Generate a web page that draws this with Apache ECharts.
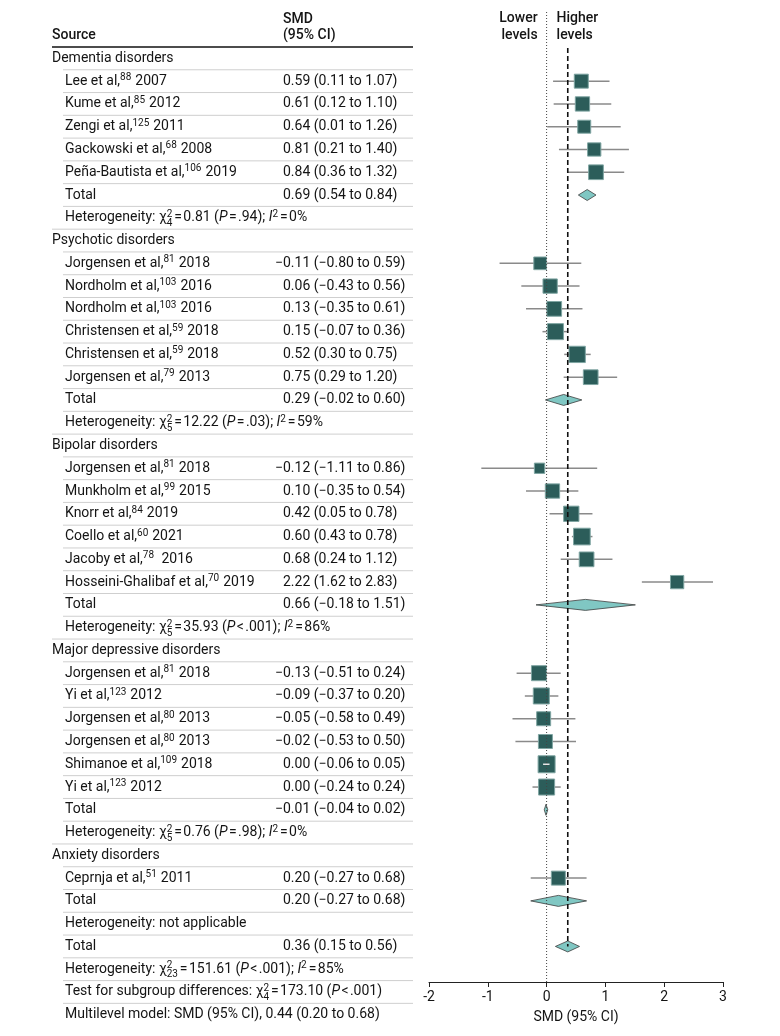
<!DOCTYPE html>
<html>
<head>
<meta charset="utf-8">
<script src="https://cdn.jsdelivr.net/npm/echarts@6/dist/echarts.min.js"></script>
<style>html,body{margin:0;padding:0;background:#fff}#c{width:780px;height:1036px}</style>
</head>
<body>
<div id="c"></div>
<script>
// ================= DATA =================
const groupNames = ['Dementia disorders', 'Psychotic disorders', 'Bipolar disorders', 'Major depressive disorders', 'Anxiety disorders'];
const studyGroup = [0,0,0,0,0, 1,1,1,1,1,1, 2,2,2,2,2,2, 3,3,3,3,3,3, 4];
const studyAuthors = ['Lee et al,', 'Kume et al,', 'Zengi et al,', 'Gackowski et al,', 'Peña-Bautista et al,',
  'Jorgensen et al,', 'Nordholm et al,', 'Nordholm et al,', 'Christensen et al,', 'Christensen et al,', 'Jorgensen et al,',
  'Jorgensen et al,', 'Munkholm et al,', 'Knorr et al,', 'Coello et al,', 'Jacoby et al,', 'Hosseini-Ghalibaf et al,',
  'Jorgensen et al,', 'Yi et al,', 'Jorgensen et al,', 'Jorgensen et al,', 'Shimanoe et al,', 'Yi et al,',
  'Ceprnja et al,'];
const studyRefs = ['88','85','125','68','106', '81','103','103','59','59','79', '81','99','84','60','78','70', '81','123','80','80','109','123', '51'];
const studyYears = ['2007','2012','2011','2008','2019', '2018','2016','2016','2018','2018','2013', '2018','2015','2019','2021','\u00a02016','2019', '2018','2012','2013','2013','2018','2012', '2011'];
const studySMD  = [0.59, 0.61, 0.64, 0.81, 0.84,  -0.11, 0.06, 0.13, 0.15, 0.52, 0.75,  -0.12, 0.10, 0.42, 0.60, 0.68, 2.22,  -0.13, -0.09, -0.05, -0.02, 0.00, 0.00,  0.20];
const studyLow  = [0.11, 0.12, 0.01, 0.21, 0.36,  -0.80, -0.43, -0.35, -0.07, 0.30, 0.29,  -1.11, -0.35, 0.05, 0.43, 0.24, 1.62,  -0.51, -0.37, -0.58, -0.53, -0.06, -0.24,  -0.27];
const studyHigh = [1.07, 1.10, 1.26, 1.40, 1.32,  0.59, 0.56, 0.61, 0.36, 0.75, 1.20,  0.86, 0.54, 0.78, 0.78, 1.12, 2.83,  0.24, 0.20, 0.49, 0.50, 0.05, 0.24,  0.68];
// relative study weights
const studyWeight = [15.1, 15.8, 13.0, 13.6, 16.7,  12.4, 15.8, 16.7, 19.8, 20.5, 16.7,  8.2, 15.8, 18.1, 21.5, 16.7, 13.6,  17.4, 19.8, 15.1, 15.1, 22.3, 19.8,  15.1];

const groupTotal     = [0.69, 0.29, 0.66, -0.01, 0.20];
const groupTotalLow  = [0.54, -0.02, -0.18, -0.04, -0.27];
const groupTotalHigh = [0.84, 0.60, 1.51, 0.02, 0.68];
const groupHetDf  = ['4', '5', '5', '5', null];
const groupHetChi = ['0.81', '12.22', '35.93', '0.76', null];
const groupHetP   = ['=', '=', '<', '=', null];
const groupHetPv  = ['.94', '.03', '.001', '.98', null];
const groupHetI2  = ['0%', '59%', '86%', '0%', null];

const overallSMD = [0.36, 0.15, 0.56];
const overallHet = ['23', '151.61', '<', '.001', '85%'];
const subgroupTest = ['4', '173.10', '<', '.001'];
const multilevelSMD = [0.44, 0.20, 0.68];

const xTickMin = -2, xTickMax = 3, xTickStep = 1;

// ================= STYLE / LAYOUT =================
const FAMILY = 'Roboto, "Noto Sans", "DejaVu Sans", sans-serif';
const FS = 14, SUP_FS = 10;
const INK = '#141414';
const ROW0 = 58.4, PITCH = 22.77, H = 1036;
const COL_GROUP = 52, COL_ITEM = 65, COL_SMD = 283, COL_END = 413;
const F_TOP = 12, F_BOTTOM = 54;
const T_MIN = (0 - ROW0) / PITCH, T_MAX = (H - ROW0) / PITCH;
const F_MIN = (F_TOP - ROW0) / PITCH, F_MAX = (H - F_BOTTOM - ROW0) / PITCH;
const DASH_TOP = (48 - ROW0) / PITCH;

const cv = document.createElement('canvas').getContext('2d');
function fontStr(size, italic, weight) { return (italic ? 'italic ' : 'normal ') + (weight || 'normal') + ' ' + size + 'px ' + FAMILY; }
function tw(t, f) { cv.font = f; return cv.measureText(t).width; }
function fmt(v) { return (v < 0 ? '\u2212' : '') + Math.abs(v).toFixed(2); }
function ciText(e, l, h) { return fmt(e) + ' (' + fmt(l) + ' to ' + fmt(h) + ')'; }
function txt(t, x, y, font, align, fill) {
  return { type: 'text', x: x, y: y, silent: true,
    style: { text: t, font: font, fill: fill || INK, textAlign: align || 'left', align: align || 'left', textVerticalAlign: 'middle', verticalAlign: 'middle' } };
}
const TS = '\u200a';
function spanEls(spans, x, y) {
  const els = []; let cx = x;
  const small = fontStr(SUP_FS, false);
  spans.forEach(s => {
    if (s.sup !== undefined || s.sub !== undefined) {
      let w = 0;
      if (s.sup !== undefined) { els.push(txt(s.sup, cx, y - 3.5, small)); w = Math.max(w, tw(s.sup, small)); }
      if (s.sub !== undefined) { els.push(txt(s.sub, cx, y + 5.5, small)); w = Math.max(w, tw(s.sub, small)); }
      cx += w + 0.5;
    } else {
      const f = fontStr(FS, !!s.i, s.b || 'normal');
      els.push(txt(s.t, cx, y, f)); cx += tw(s.t, f);
    }
  });
  return els;
}
function hetSpans(prefix, df, chi, pOp, pV, i2) {
  const sp = [{ t: prefix + 'χ' }, { sup: '2', sub: df }, { t: TS + '=' + TS + chi + ' (' }, { t: 'P', i: 1 }, { t: TS + pOp + TS + pV + ')' }];
  if (i2 !== undefined) sp.push({ t: '; ' }, { t: 'I', i: 1 }, { sup: '2' }, { t: TS + '=' + TS + i2 });
  return sp;
}

// ================= ROWS =================
const rows = [{ kind: 'header', r: -1 }];
let rr = 0;
groupNames.forEach((g, gi) => {
  rows.push({ kind: 'group', r: rr++, text: g });
  studyGroup.forEach((sg, i) => { if (sg === gi) rows.push({ kind: 'study', r: rr++, i: i, est: studySMD[i], lo: studyLow[i], hi: studyHigh[i], w: studyWeight[i] }); });
  rows.push({ kind: 'total', r: rr++, est: groupTotal[gi], lo: groupTotalLow[gi], hi: groupTotalHigh[gi] });
  rows.push({ kind: 'het', r: rr++, gi: gi });
});
const overallRow = rr;
rows.push({ kind: 'total', r: rr++, est: overallSMD[0], lo: overallSMD[1], hi: overallSMD[2] });
rows.push({ kind: 'hetAll', r: rr++ });
rows.push({ kind: 'test', r: rr++ });
rows.push({ kind: 'multi', r: rr++ });
const forestRows = rows.filter(o => o.kind === 'study' || o.kind === 'total');

function renderTable(params, api) {
  const idx = params.dataIndex;
  const row = rows[idx];
  const y = api.coord([0, row.r])[1];
  const X = v => api.coord([v, row.r])[0];
  const ch = [];
  const fN = fontStr(FS, false), fB = fontStr(FS, false, '500');
  if (row.kind === 'header') {
    ch.push(txt('Source', X(COL_GROUP), y, fB));
    ch.push(txt('SMD', X(COL_SMD), y - 16, fB));
    ch.push(txt('(95% CI)', X(COL_SMD), y, fB));
  } else if (row.kind === 'group') {
    ch.push(txt(row.text, X(COL_GROUP), y, fN));
  } else if (row.kind === 'study') {
    const i = row.i;
    ch.push(...spanEls([{ t: studyAuthors[i] }, { sup: studyRefs[i] }, { t: ' ' + studyYears[i] }], X(COL_ITEM), y));
  } else if (row.kind === 'total') {
    ch.push(txt('Total', X(COL_ITEM), y, fN));
  } else if (row.kind === 'het') {
    const g = row.gi;
    if (groupHetDf[g] === null) ch.push(txt('Heterogeneity: not applicable', X(COL_ITEM), y, fN));
    else ch.push(...spanEls(hetSpans('Heterogeneity: ', groupHetDf[g], groupHetChi[g], groupHetP[g], groupHetPv[g], groupHetI2[g]), X(COL_ITEM), y));
  } else if (row.kind === 'hetAll') {
    ch.push(...spanEls(hetSpans('Heterogeneity: ', overallHet[0], overallHet[1], overallHet[2], overallHet[3], overallHet[4]), X(COL_ITEM), y));
  } else if (row.kind === 'test') {
    ch.push(...spanEls(hetSpans('Test for subgroup differences: ', subgroupTest[0], subgroupTest[1], subgroupTest[2], subgroupTest[3]), X(COL_ITEM), y));
  } else if (row.kind === 'multi') {
    ch.push(txt('Multilevel model: SMD (95% CI), ' + ciText(multilevelSMD[0], multilevelSMD[1], multilevelSMD[2]), X(COL_ITEM), y, fN));
  }
  if (row.kind === 'study' || row.kind === 'total') {
    const s = ciText(row.est, row.lo, row.hi);
    const hang = s.charAt(0) === '\u2212' ? tw('\u2212', fN) : 0;
    ch.push(txt(s, X(COL_SMD) - hang, y, fN));
  }
  // separator below row
  const next = rows[idx + 1];
  if (next) {
    const ly = y + PITCH / 2;
    const left = (row.kind === 'header' || next.kind === 'group') ? X(COL_GROUP) : X(COL_ITEM) - 2;
    ch.push({ type: 'line', silent: true, shape: { x1: left, y1: ly, x2: X(COL_END), y2: ly },
      style: row.kind === 'header' ? { stroke: '#111', lineWidth: 1.5 } : { stroke: '#cfcfcf', lineWidth: 1 } });
  }
  return { type: 'group', children: ch };
}

const BOX_K = 3.6;
function renderForest(params, api) {
  const fr = forestRows[params.dataIndex];
  const c = api.coord([fr.est, fr.r]);
  const pl = api.coord([fr.lo, fr.r]);
  const ph = api.coord([fr.hi, fr.r]);
  const ch = [];
  if (fr.kind === 'study') {
    const s = BOX_K * Math.sqrt(fr.w);
    ch.push({ type: 'line', shape: { x1: pl[0], y1: c[1], x2: ph[0], y2: c[1] }, style: { stroke: '#8a8a8a', lineWidth: 1.5 } });
    ch.push({ type: 'rect', shape: { x: c[0] - s / 2, y: c[1] - s / 2, width: s, height: s }, style: { fill: '#2c5d5a', stroke: '#7fa5a2', lineWidth: 1 } });
    if (pl[0] > c[0] - s / 2 && ph[0] < c[0] + s / 2)
      ch.push({ type: 'line', shape: { x1: pl[0], y1: c[1], x2: ph[0], y2: c[1] }, style: { stroke: '#e6e6e6', lineWidth: 1.5 } });
  } else {
    const hh = 5.5;
    ch.push({ type: 'polygon', shape: { points: [[pl[0], c[1]], [c[0], c[1] - hh], [ph[0], c[1]], [c[0], c[1] + hh]] },
      style: { fill: '#80c7c3', stroke: '#3d3d3d', lineWidth: 0.8 } });
  }
  return { type: 'group', children: ch };
}

function renderRefs(params, api) {
  const z0 = api.coord([0, F_MIN]), z1 = api.coord([0, F_MAX]);
  const d0 = api.coord([overallSMD[0], DASH_TOP]), d1 = api.coord([overallSMD[0], overallRow]);
  const fB = fontStr(FS, false, '500');
  const yA = api.coord([0, (18 - ROW0) / PITCH])[1], yB = api.coord([0, (35 - ROW0) / PITCH])[1];
  return { type: 'group', children: [
    { type: 'line', silent: true, shape: { x1: z0[0], y1: z0[1], x2: z1[0], y2: z1[1] }, style: { stroke: '#444', lineWidth: 1, lineDash: [1, 2] } },
    { type: 'line', silent: true, shape: { x1: d0[0], y1: d0[1], x2: d1[0], y2: d1[1] }, style: { stroke: '#111', lineWidth: 1.6, lineDash: [5, 3] } },
    txt('Lower', z0[0] - 9, yA, fB, 'right'), txt('levels', z0[0] - 9, yB, fB, 'right'),
    txt('Higher', z0[0] + 10, yA, fB, 'left'), txt('levels', z0[0] + 10, yB, fB, 'left')
  ] };
}

const chart = echarts.init(document.getElementById('c'), null, { renderer: 'canvas' });
chart.setOption({
  animation: false,
  backgroundColor: '#fff',
  grid: [
    { left: 0, right: 0, top: 0, bottom: 0, outerBoundsMode: 'none' },
    { left: 429, right: 57, top: F_TOP, bottom: F_BOTTOM, outerBoundsMode: 'none' }
  ],
  xAxis: [
    { gridIndex: 0, type: 'value', min: 0, max: 780, show: false },
    { gridIndex: 1, type: 'value', position: 'bottom', min: xTickMin, max: xTickMax, interval: xTickStep,
      axisLine: { show: true, onZero: false, lineStyle: { color: '#222', width: 1 } },
      axisTick: { show: true, length: 5, lineStyle: { color: '#222' } },
      splitLine: { show: false },
      axisLabel: { color: INK, fontSize: FS, fontFamily: FAMILY, margin: 8 },
      name: 'SMD (95% CI)', nameLocation: 'middle', nameGap: 28,
      nameTextStyle: { color: INK, fontSize: FS, fontFamily: FAMILY } }
  ],
  yAxis: [
    { gridIndex: 0, type: 'value', inverse: true, min: T_MIN, max: T_MAX, show: false },
    { gridIndex: 1, type: 'value', inverse: true, min: F_MIN, max: F_MAX, show: false }
  ],
  series: [
    { type: 'custom', name: 'table', xAxisIndex: 0, yAxisIndex: 0, renderItem: renderTable,
      data: rows.map(o => [0, o.r]), z: 2, silent: true },
    { type: 'custom', name: 'forest', xAxisIndex: 1, yAxisIndex: 1, renderItem: renderForest,
      data: forestRows.map(o => [o.est, o.r]), z: 3, silent: true },
    { type: 'custom', name: 'reference', xAxisIndex: 1, yAxisIndex: 1, renderItem: renderRefs,
      data: [[overallSMD[0], overallRow]], z: 4, silent: true }
  ]
});
</script>
</body>
</html>
